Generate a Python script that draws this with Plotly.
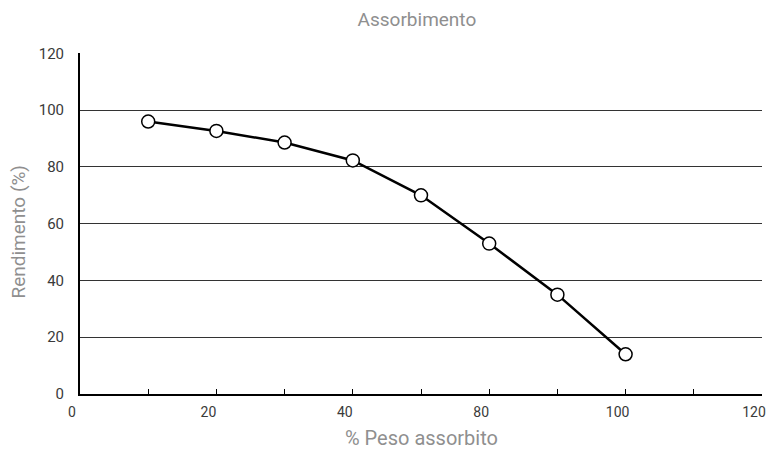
import plotly.graph_objects as go

# Data
x_positions = [10, 20, 30, 40, 50, 60, 70, 80]
rendimento = [96, 92.7, 88.6, 82.3, 70, 53, 35, 14]
x_tick_vals = [0, 10, 20, 30, 40, 50, 60, 70, 80, 90, 100]
x_tick_text = ["0", "", "20", "", "40", "", "80", "", "100", "", "120"]
y_tick_vals = [0, 20, 40, 60, 80, 100, 120]

font_family = "Roboto, sans-serif"
title_color = "#8f8f8f"
tick_color = "#3a3a3a"

W, H = 766, 450

fig = go.Figure()
fig.add_trace(go.Scatter(
    x=x_positions, y=rendimento, mode="lines+markers",
    line=dict(color="black", width=2.5),
    marker=dict(symbol="circle", size=13, color="white",
                line=dict(color="black", width=1.5)),
    cliponaxis=False, showlegend=False,
))

fig.update_layout(
    width=W, height=H,
    margin=dict(l=80, r=4, t=53, b=56),
    paper_bgcolor="white", plot_bgcolor="white",
    font=dict(family=font_family, size=15, color=tick_color),
    title=dict(text="Assorbimento", x=0.494, xref="paper", xanchor="center",
               y=1 - 19 / H, yref="container", yanchor="middle",
               font=dict(family=font_family, size=19, color=title_color)),
    xaxis=dict(
        range=[0, 100], tickmode="array", tickvals=x_tick_vals, ticktext=x_tick_text,
        ticks="inside", ticklen=5, tickcolor="black", tickwidth=1,
        showline=True, linecolor="black", linewidth=2,
        showgrid=False, zeroline=False, automargin=False,
        ticklabeloverflow="allow", ticklabelstandoff=4, ticklabelshift=-8,
        tickfont=dict(size=14, color=tick_color),
    ),
    yaxis=dict(
        range=[0, 120.15], tickmode="array", tickvals=y_tick_vals,
        ticks="", showline=True, linecolor="black", linewidth=2,
        showgrid=True, gridcolor="#333", gridwidth=1, zeroline=False,
        automargin=False, ticklabelstandoff=11,
        tickfont=dict(size=15, color=tick_color),
    ),
    annotations=[
        dict(text="% Peso assorbito", xref="paper", yref="paper", x=0.5, y=0,
             yshift=-44, xanchor="center", yanchor="middle", showarrow=False,
             font=dict(family=font_family, size=20, color=title_color)),
        dict(text="Rendimento (%)", xref="paper", yref="paper", x=0, y=0.5,
             xshift=-62, yshift=-9, xanchor="center", yanchor="middle",
             textangle=-90, showarrow=False,
             font=dict(family=font_family, size=19, color=title_color)),
    ],
)

# Remove the default 8px page margin so the figure fills the 766x450 window exactly.
fig.write_html(
    "out.html",
    config={"displayModeBar": False},
    post_script="document.body.style.margin='0';document.body.style.overflow='hidden';",
)
